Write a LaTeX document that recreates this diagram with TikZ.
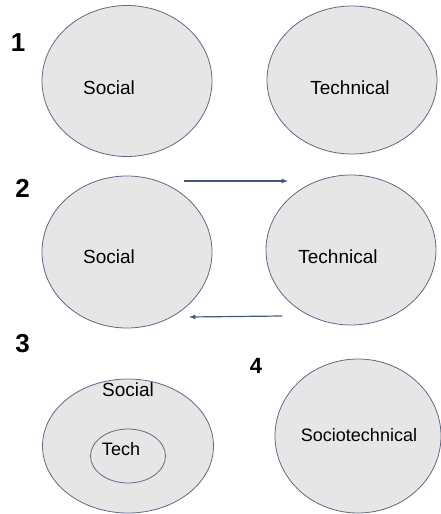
\documentclass[tikz,border=0pt]{standalone}
\usepackage{fontspec}
\setmainfont{Liberation Sans}
\usetikzlibrary{shapes.geometric}
\definecolor{ringfill}{RGB}{230,230,230}
\definecolor{ringline}{RGB}{92,106,132}
\definecolor{arrowcol}{RGB}{72,89,120}
\begin{document}
\begin{tikzpicture}[x=1pt,y=-1pt]
    \useasboundingbox (0,0) rectangle (440,514);
    % the rings
    \begin{scope}[every node/.style={ellipse,draw=ringline,fill=ringfill,line width=0.8pt,inner sep=0pt,outer sep=0pt}]
        \node[minimum width=170pt,minimum height=151pt] (S1) at (127,81) {};
        \node[minimum width=170pt,minimum height=148pt] (T1) at (352,80) {};
        \node[minimum width=170pt,minimum height=152pt] (S2) at (127,252) {};
        \node[minimum width=170pt,minimum height=150pt] (T2) at (351,250) {};
        \node[minimum width=171pt,minimum height=134pt] (S3) at (128,446) {};
        \node[minimum width=75pt,minimum height=54pt] (T3) at (128,456) {};
        \node[minimum width=166pt,minimum height=154pt] (ST4) at (358,436) {};
    \end{scope}
    % texts
    \begin{scope}[every node/.style={inner sep=0pt}]
        \node[font=\fontsize{19}{22}\selectfont] (LS1) at (109,88) {Social};
        \node[font=\fontsize{19}{22}\selectfont] (LT1) at (350,88) {Technical};
        \node[font=\fontsize{19}{22}\selectfont] (LS2) at (109,257) {Social};
        \node[font=\fontsize{19}{22}\selectfont] (LT2) at (338,257) {Technical};
        \node[font=\fontsize{19}{22}\selectfont] (LS3) at (128,390) {Social};
        \node[font=\fontsize{18}{22}\selectfont] (LT3) at (121,449) {Tech};
        \node[font=\fontsize{18}{22}\selectfont] (LST4) at (359,435) {Sociotechnical};
    \end{scope}
    \begin{scope}[every node/.style={font=\bfseries\fontsize{26}{30}\selectfont,inner sep=0pt}]
        \node (N1) at (18,43) {1};
        \node (N2) at (22.5,188) {2};
        \node (N3) at (22.5,344) {3};
        \node[font=\bfseries\fontsize{22}{26}\selectfont] (N4) at (256,366) {4};
    \end{scope}
    % the loop between the two rings of row 2
    \coordinate (A1) at (184,181);
    \coordinate (A2) at (288,181);
    \coordinate (B1) at (282,316);
    \coordinate (B2) at (189,317);
    \begin{scope}[-latex,line width=1.2pt,draw=arrowcol]
        \draw (A1) -- (A2);
        \draw (B1) -- (B2);
    \end{scope}
\end{tikzpicture}
\end{document}
